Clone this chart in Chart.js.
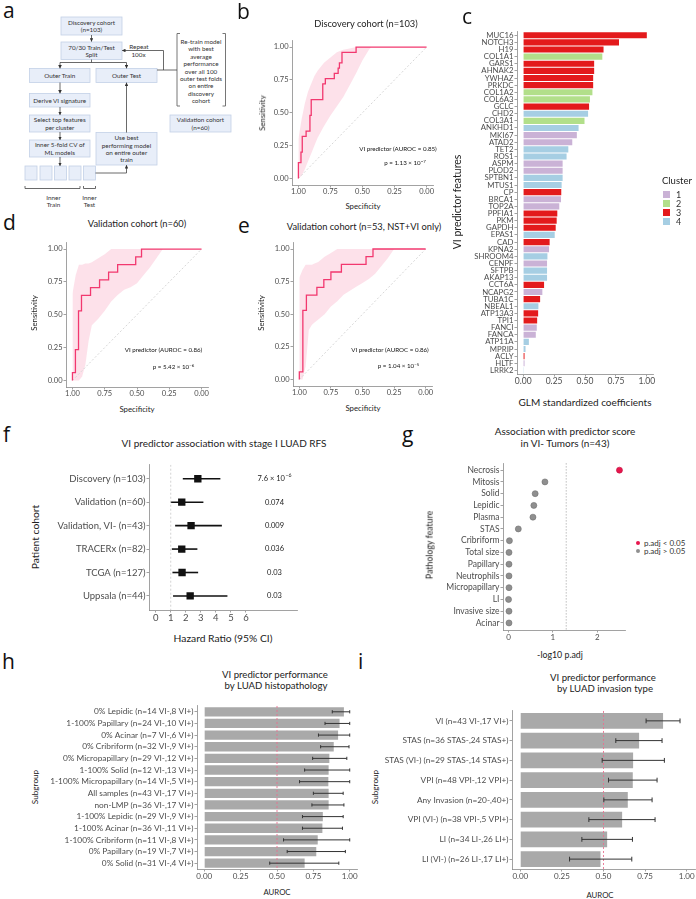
<!DOCTYPE html>
<html>
<head>
<meta charset="utf-8">
<script src="https://cdn.jsdelivr.net/npm/chart.js@4.4.1/dist/chart.umd.min.js"></script>
<style>
html, body { margin: 0; padding: 0; background: #fff; overflow: hidden; }
body { width: 696px; height: 899px; position: relative; font-family: Lato, sans-serif; color: #222; }
canvas { position: absolute; }
.t { position: absolute; white-space: nowrap; line-height: 1; }
.lt { position: absolute; font-family: "Open Sans", sans-serif; font-size: 21px; line-height: 1; color: #111; }
sup { font-size: 70%; vertical-align: 0.45em; line-height: 0; }
.sw { position: absolute; width: 7px; height: 7px; }
</style>
</head>
<body>
<svg id="flow" width="236" height="215" style="position:absolute;left:0;top:0"></svg>
<script>
// ---- ROC curves (specificity / sensitivity) ----
const rocB_spec = [1, 1, 0.98, 0.97, 0.94, 0.91, 0.9, 0.81, 0.79, 0.72, 0.69, 0.68, 0.66, 0.55, 0];
const rocB_sens = [0, 0.12, 0.2, 0.32, 0.36, 0.48, 0.6, 0.72, 0.76, 0.8, 0.84, 0.88, 0.96, 1, 1];
const bandB_spec = [1, 0.975, 0.95, 0.925, 0.9, 0.875, 0.85, 0.8, 0.75, 0.7, 0.65, 0.6, 0.55, 0.5, 0.45, 0.43];
const bandB_lo = [0, 0.02, 0.07, 0.13, 0.19, 0.25, 0.31, 0.4, 0.48, 0.55, 0.62, 0.71, 0.8, 0.9, 0.98, 1];
const bandB_hi = [0.3, 0.45, 0.57, 0.66, 0.72, 0.78, 0.82, 0.88, 0.92, 0.96, 0.98, 0.99, 1, 1, 1, 1];

const rocD_spec = [1, 1, 0.977, 0.953, 0.93, 0.86, 0.79, 0.72, 0.65, 0.51, 0.465, 0];
const rocD_sens = [0, 0.059, 0.235, 0.529, 0.647, 0.706, 0.765, 0.824, 0.882, 0.941, 1, 1];
const bandD_spec = [1, 0.975, 0.95, 0.925, 0.9, 0.875, 0.85, 0.8, 0.75, 0.7, 0.65, 0.6, 0.55, 0.5, 0.45, 0.4, 0.35, 0.3];
const bandD_lo = [0, 0, 0, 0.03, 0.12, 0.3, 0.42, 0.47, 0.53, 0.6, 0.65, 0.69, 0.71, 0.74, 0.8, 0.86, 0.93, 1];
const bandD_hi = [0.66, 0.8, 0.88, 0.88, 0.89, 0.89, 0.9, 0.93, 0.96, 1, 1, 1, 1, 1, 1, 1, 1, 1];

const rocE_spec = [1, 1, 0.972, 0.944, 0.861, 0.806, 0.75, 0.667, 0.472, 0.417, 0];
const rocE_sens = [0, 0.059, 0.529, 0.647, 0.706, 0.765, 0.824, 0.882, 0.941, 1, 1];
const bandE_spec = [1, 0.975, 0.95, 0.925, 0.9, 0.875, 0.85, 0.8, 0.75, 0.7, 0.65, 0.6, 0.55, 0.5, 0.45, 0.4, 0.35, 0.3, 0.25];
const bandE_lo = [0, 0, 0.1, 0.38, 0.42, 0.44, 0.46, 0.5, 0.56, 0.6, 0.65, 0.68, 0.71, 0.74, 0.77, 0.81, 0.87, 0.93, 1];
const bandE_hi = [0.78, 0.84, 0.88, 0.88, 0.88, 0.89, 0.9, 0.94, 0.97, 1, 1, 1, 1, 1, 1, 1, 1, 1, 1];

// ---- GLM coefficients ----
const genes = ['MUC16','NOTCH3','H19','COL1A1','GARS1','AHNAK2','YWHAZ','PRKDC','COL1A2','COL6A3',
  'GCLC','CHD2','COL3A1','ANKHD1','MKI67','ATAD2','TET2','ROS1','ASPM','PLOD2',
  'SPTBN1','MTUS1','CP','BRCA1','TOP2A','PPFIA1','PKM','GAPDH','EPAS1','CAD',
  'KPNA2','SHROOM4','CENPF','SFTPB','AKAP13','CCT6A','NCAPG2','TUBA1C','NBEAL1','ATP13A3',
  'TPI1','FANCI','FANCA','ATP11A','MPRIP','ACLY','HLTF','LRRK2'];
const coefs = [1.0, 0.775, 0.65, 0.64, 0.574, 0.574, 0.566, 0.566, 0.56, 0.54,
  0.533, 0.525, 0.496, 0.448, 0.434, 0.397, 0.365, 0.351, 0.319, 0.319,
  0.319, 0.311, 0.308, 0.306, 0.292, 0.276, 0.271, 0.263, 0.255, 0.214,
  0.209, 0.196, 0.193, 0.193, 0.193, 0.169, 0.155, 0.137, 0.123, 0.121,
  0.113, 0.11, 0.102, 0.046, 0.019, 0.011, 0.011, 0.005];
const clusters = [3,3,3,2,3,3,3,3,2,2, 3,4,2,4,1,1,4,4,1,1, 4,4,3,1,1,3,3,3,4,3, 1,4,1,4,4,3,1,3,4,3, 3,1,1,4,4,3,1,4];
const clusterNames = ['1', '2', '3', '4'];

// ---- forest plot ----
const cohorts = ['Discovery (n=103)', 'Validation (n=60)', 'Validation, VI- (n=43)', 'TRACERx (n=82)', 'TCGA (n=127)', 'Uppsala (n=44)'];
const hr = [2.8, 1.73, 2.35, 1.73, 1.75, 2.29];
const hrLo = [1.8, 1.0, 1.29, 1.07, 1.11, 1.15];
const hrHi = [4.3, 3.17, 4.4, 2.77, 2.82, 4.77];
const hrP = ['7.6 × 10^−6', '0.074', '0.009', '0.036', '0.03', '0.03'];
const hrTicks = [0, 1, 2, 3, 4, 5, 6];

// ---- pathology association ----
const features = ['Necrosis','Mitosis','Solid','Lepidic','Plasma','STAS','Cribriform','Total size','Papillary','Neutrophils','Micropapillary','LI','Invasive size','Acinar'];
const negLogP = [2.5, 0.82, 0.6, 0.57, 0.55, 0.22, 0.02, 0.01, 0.01, 0.01, 0.01, 0.0, 0.01, 0.01];

// ---- subgroup AUROC ----
const subgroupsH = ['0% Lepidic (n=14 VI-,8 VI+)', '1-100% Papillary (n=24 VI-,10 VI+)', '0% Acinar (n=7 VI-,6 VI+)',
  '0% Cribriform (n=32 VI-,9 VI+)', '0% Micropapillary (n=29 VI-,12 VI+)', '1-100% Solid (n=12 VI-,13 VI+)',
  '1-100% Micropapillary (n=14 VI-,5 VI+)', 'All samples (n=43 VI-,17 VI+)', 'non-LMP (n=36 VI-,17 VI+)',
  '1-100% Lepidic (n=29 VI-,9 VI+)', '1-100% Acinar (n=36 VI-,11 VI+)', '1-100% Cribriform (n=11 VI-,8 VI+)',
  '0% Papillary (n=19 VI-,7 VI+)', '0% Solid (n=31 VI-,4 VI+)'];
const aucH = [0.96, 0.93, 0.92, 0.89, 0.86, 0.855, 0.853, 0.855, 0.855, 0.815, 0.812, 0.78, 0.77, 0.69];
const aucH_lo = [0.88, 0.83, 0.785, 0.8, 0.745, 0.69, 0.655, 0.75, 0.74, 0.675, 0.675, 0.545, 0.57, 0.45];
const aucH_hi = [1, 1, 1, 0.995, 0.98, 1, 1, 0.955, 0.96, 0.955, 0.95, 1, 0.97, 0.925];

const subgroupsI = ['VI (n=43 VI-,17 VI+)', 'STAS (n=36 STAS-,24 STAS+)', 'STAS (VI-) (n=29 STAS-,14 STAS+)',
  'VPI (n=48 VPI-,12 VPI+)', 'Any Invasion (n=20-,40+)', 'VPI (VI-) (n=38 VPI-,5 VPI+)',
  'LI (n=34 LI-,26 LI+)', 'LI (VI-) (n=26 LI-,17 LI+)'];
const aucI = [0.858, 0.714, 0.678, 0.676, 0.646, 0.612, 0.522, 0.482];
const aucI_lo = [0.756, 0.574, 0.492, 0.53, 0.502, 0.412, 0.37, 0.296];
const aucI_hi = [0.96, 0.852, 0.866, 0.822, 0.792, 0.81, 0.674, 0.67];
const quarterTicks = [0, 0.25, 0.5, 0.75, 1];

// ---- styles ----
const AX = '#8a8a8a', TK = '#4d4d4d';
const PINK = '#f2386f', BAND = 'rgba(251, 196, 213, 0.5)';
const CL_COLORS = ['#CAB2D6', '#B2DF8A', '#E31A1C', '#A6CEE3'];
const SIG_RED = '#e8164d', NS_GREY = '#8f8f8f', BAR_GREY = '#a9a9a9';

Chart.defaults.font.family = 'Lato';
Chart.defaults.color = TK;
Chart.defaults.plugins.legend.display = false;
Chart.defaults.plugins.tooltip.enabled = false;

function mount(box, yW, xH, config) {
  const padT = 4, padR = 10;
  const cv = document.createElement('canvas');
  const w = box.r - box.l + yW + padR, h = box.b - box.t + padT + xH;
  cv.width = w; cv.height = h;
  cv.style.left = (box.l - yW) + 'px';
  cv.style.top = (box.t - padT) + 'px';
  cv.style.width = w + 'px';
  cv.style.height = h + 'px';
  document.body.appendChild(cv);
  config.options.responsive = false;
  config.options.animation = false;
  config.options.layout = { padding: { top: padT, right: padR, left: 0, bottom: 0 } };
  config.options.scales.x.afterFit = s => { s.height = xH; };
  config.options.scales.y.afterFit = s => { s.width = yW; };
  return new Chart(cv, config);
}

function scaleOpts(size, extra) {
  const o = {
    grid: { drawOnChartArea: false, drawTicks: true, tickLength: 2.5, color: AX, lineWidth: 0.8, offset: false },
    border: { display: true, color: AX, width: 0.8 },
    ticks: { color: TK, padding: 1, autoSkip: false, maxRotation: 0, font: { size: size } }
  };
  for (const k in extra) {
    if (k === 'ticks') Object.assign(o.ticks, extra.ticks);
    else o[k] = extra[k];
  }
  return o;
}

function fixedTicks(vals) {
  return s => { s.ticks = vals.map(v => ({ value: v })); };
}

function ciPlugin(lo, hi, rows, o) {
  const draw = chart => {
    const { ctx, scales: { x, y } } = chart;
    ctx.save();
    ctx.strokeStyle = o.color;
    ctx.lineWidth = o.width;
    lo.forEach((v, i) => {
      const py = y.getPixelForValue(rows[i]);
      const x0 = x.getPixelForValue(v), x1 = x.getPixelForValue(hi[i]);
      ctx.beginPath();
      ctx.moveTo(x0, py); ctx.lineTo(x1, py);
      if (o.cap) {
        ctx.moveTo(x0, py - o.cap); ctx.lineTo(x0, py + o.cap);
        ctx.moveTo(x1, py - o.cap); ctx.lineTo(x1, py + o.cap);
      }
      ctx.stroke();
    });
    ctx.restore();
  };
  return {
    id: 'ci',
    beforeDatasetsDraw(chart) { if (o.before) draw(chart); },
    afterDatasetsDraw(chart) { if (!o.before) draw(chart); }
  };
}

function refLine(v, color) {
  return {
    id: 'ref',
    afterDatasetsDraw(chart) {
      const { ctx, chartArea: a, scales: { x } } = chart;
      const px = x.getPixelForValue(v);
      ctx.save();
      ctx.strokeStyle = color; ctx.lineWidth = 0.9; ctx.setLineDash([2, 2]);
      ctx.beginPath(); ctx.moveTo(px, a.top); ctx.lineTo(px, a.bottom); ctx.stroke();
      ctx.restore();
    }
  };
}

// ---- ROC panels ----
function rocChart(box, cs, cn, bs, blo, bhi) {
  const pts = (xs, ys) => xs.map((s, i) => ({ x: s, y: ys[i] }));
  return mount(box, 30, 14, {
    type: 'line',
    data: { datasets: [
      { data: pts(bs, bhi), fill: '+1', backgroundColor: BAND, borderWidth: 0, pointRadius: 0, order: 3 },
      { data: pts(bs, blo), fill: false, borderWidth: 0, pointRadius: 0, order: 3 },
      { data: [{ x: 1, y: 0 }, { x: 0, y: 1 }], borderColor: '#d6d6d6', borderWidth: 1, borderDash: [2, 2], pointRadius: 0, fill: false, order: 2 },
      { data: pts(cs, cn), stepped: 'before', borderColor: PINK, borderWidth: 1.3, pointRadius: 0, fill: false, order: 1 }
    ] },
    options: { scales: {
      x: scaleOpts(7.5, { type: 'linear', reverse: true, min: -0.05, max: 1.05, afterBuildTicks: fixedTicks(quarterTicks), ticks: { padding: 0, callback: v => v.toFixed(2) } }),
      y: scaleOpts(7.5, { type: 'linear', min: -0.05, max: 1.05, afterBuildTicks: fixedTicks(quarterTicks), ticks: { callback: v => v.toFixed(2) } })
    } }
  });
}
rocChart({ l: 292, r: 433, t: 39, b: 185 }, rocB_spec, rocB_sens, bandB_spec, bandB_lo, bandB_hi);
rocChart({ l: 66, r: 208, t: 241, b: 387 }, rocD_spec, rocD_sens, bandD_spec, bandD_lo, bandD_hi);
rocChart({ l: 293, r: 432, t: 241, b: 386 }, rocE_spec, rocE_sens, bandE_spec, bandE_lo, bandE_hi);

// ---- panel c: coefficients ----
mount({ l: 517, r: 653, t: 30, b: 374 }, 60, 14, {
  type: 'bar',
  data: { labels: genes, datasets: [{
    data: coefs,
    backgroundColor: clusters.map(c => CL_COLORS[c - 1]),
    barPercentage: 0.86, categoryPercentage: 1
  }] },
  options: { indexAxis: 'y', scales: {
    x: scaleOpts(8.5, { type: 'linear', min: -0.05, max: 1.05, afterBuildTicks: fixedTicks(quarterTicks), ticks: { padding: 0, callback: v => v.toFixed(2) } }),
    y: scaleOpts(7.8, { ticks: { padding: 1 } })
  } }
});

// ---- panel f: forest ----
mount({ l: 149, r: 297, t: 462, b: 610 }, 104, 16, {
  type: 'line',
  data: { datasets: [
    { data: [{ x: 1, y: 0.4 }, { x: 1, y: 6.6 }], borderColor: '#c8c8c8', borderWidth: 0.8, borderDash: [2, 2], pointRadius: 0, order: 2 },
    { data: hr.map((v, i) => ({ x: v, y: i + 1 })), showLine: false, pointStyle: 'rect', pointRadius: 5.2,
      pointBackgroundColor: '#111', pointBorderWidth: 0, order: 1 }
  ] },
  options: { scales: {
    x: scaleOpts(9.5, { type: 'linear', min: -0.45, max: 9.4, afterBuildTicks: fixedTicks(hrTicks), ticks: { padding: 0 } }),
    y: scaleOpts(9.5, { type: 'linear', reverse: true, min: 0.4, max: 6.6, afterBuildTicks: fixedTicks(cohorts.map((_, i) => i + 1)), ticks: { callback: v => cohorts[v - 1] } })
  } },
  plugins: [
    ciPlugin(hrLo, hrHi, cohorts.map((_, i) => i + 1), { color: '#111', width: 1.6, before: true }),
    {
      id: 'pvals',
      afterDatasetsDraw(chart) {
        const { ctx, scales: { x, y } } = chart;
        ctx.save();
        ctx.fillStyle = '#222'; ctx.textBaseline = 'middle'; ctx.textAlign = 'left';
        hrP.forEach((p, i) => {
          const [base, exp] = p.split('^');
          ctx.font = '7.5px Lato';
          const wb = ctx.measureText(base).width;
          ctx.font = '5.2px Lato';
          const we = exp ? ctx.measureText(exp).width + 0.5 : 0;
          const px = x.getPixelForValue(7.9) - (wb + we) / 2, py = y.getPixelForValue(i + 1);
          ctx.font = '7.5px Lato';
          ctx.fillText(base, px, py);
          if (exp) { ctx.font = '5.2px Lato'; ctx.fillText(exp, px + wb + 0.5, py - 3); }
        });
        ctx.restore();
      }
    }
  ]
});

// ---- panel g: pathology ----
mount({ l: 503, r: 625, t: 461, b: 630 }, 80, 12, {
  type: 'line',
  data: { datasets: [
    { data: [{ x: 1.3, y: 0.4 }, { x: 1.3, y: 14.6 }], borderColor: '#bdbdbd', borderWidth: 1, borderDash: [1.5, 1.5], pointRadius: 0, order: 2 },
    { data: negLogP.map((v, i) => ({ x: v, y: i + 1 })), showLine: false, pointRadius: 3,
      pointBackgroundColor: negLogP.map(v => v > 1.3 ? SIG_RED : NS_GREY),
      pointBorderColor: negLogP.map(v => v > 1.3 ? '#c0103f' : '#6f6f6f'), pointBorderWidth: 0.6, order: 1 }
  ] },
  options: { scales: {
    x: scaleOpts(8, { type: 'linear', min: -0.125, max: 2.625, afterBuildTicks: fixedTicks([0, 1, 2]), ticks: { padding: 0 } }),
    y: scaleOpts(8.5, { type: 'linear', reverse: true, min: 0.4, max: 14.6, afterBuildTicks: fixedTicks(features.map((_, i) => i + 1)), ticks: { callback: v => features[v - 1] } })
  } }
});

// ---- panels h and i: subgroup AUROC ----
function aucChart(box, yW, labels, auc, lo, hi, cap) {
  return mount(box, yW, 12, {
    type: 'bar',
    data: { labels: labels, datasets: [{ data: auc, backgroundColor: BAR_GREY, barPercentage: 0.8, categoryPercentage: 1 }] },
    options: { indexAxis: 'y', scales: {
      x: scaleOpts(8, { type: 'linear', min: -0.05, max: 1.05, afterBuildTicks: fixedTicks(quarterTicks), ticks: { padding: 0, callback: v => v.toFixed(2) } }),
      y: scaleOpts(8.3, {})
    } },
    plugins: [refLine(0.5, '#e8708f'), ciPlugin(lo, hi, labels.map((_, i) => i), { color: '#333', width: 1, cap: cap })]
  });
}
aucChart({ l: 197, r: 357, t: 704, b: 869 }, 152, subgroupsH, aucH, aucH_lo, aucH_hi, 1.6);
aucChart({ l: 512, r: 695, t: 709, b: 869 }, 130, subgroupsI, aucI, aucI_lo, aucI_hi, 2.4);

// ---- text ----
function txt(x, y, html, size, opts = {}) {
  const d = document.createElement('div');
  d.className = 't';
  d.innerHTML = html;
  d.style.left = x + 'px';
  d.style.top = y + 'px';
  d.style.fontSize = size + 'px';
  let tr = opts.left ? 'translate(0,-50%)' : 'translate(-50%,-50%)';
  if (opts.rot) tr += ' rotate(-90deg)';
  d.style.transform = tr;
  if (opts.color) d.style.color = opts.color;
  document.body.appendChild(d);
}
function letter(x, y, s) {
  const d = document.createElement('div');
  d.className = 'lt';
  d.textContent = s;
  d.style.left = x + 'px'; d.style.top = y + 'px';
  document.body.appendChild(d);
}

letter(3, 0, 'a'); letter(237, 1, 'b'); letter(462, 6, 'c');
letter(3, 212, 'd'); letter(238, 215, 'e'); letter(3, 424, 'f');
letter(402, 424, 'g'); letter(2, 651, 'h'); letter(358, 651, 'i');

// titles
txt(366, 23.5, 'Discovery cohort (n=103)', 9.3);
txt(137, 223.5, 'Validation cohort (n=60)', 9.3);
txt(364, 227, 'Validation cohort (n=53, NST+VI only)', 9.3);
txt(224, 443, 'VI predictor association with stage I LUAD RFS', 10);
txt(565, 431, 'Association with predictor score', 10);
txt(565, 443, 'in VI- Tumors (n=43)', 10);
txt(275, 675, 'VI predictor performance', 9.6);
txt(276, 686, 'by LUAD histopathology', 9.6);
txt(603, 677.5, 'VI predictor performance', 9.6);
txt(605, 689, 'by LUAD invasion type', 9.6);

// axis titles
txt(363, 207, 'Specificity', 7.8); txt(263, 113, 'Sensitivity', 7.8, { rot: true });
txt(137, 410, 'Specificity', 7.8); txt(35, 313, 'Sensitivity', 7.8, { rot: true });
txt(363, 409, 'Specificity', 7.8); txt(262, 313, 'Sensitivity', 7.8, { rot: true });
txt(585, 402, 'GLM standardized coefficients', 10);
txt(457, 202, 'VI predictor features', 10.5, { rot: true });
txt(223, 638, 'Hazard Ratio (95% CI)', 10.3);
txt(35, 537, 'Patient cohort', 10.3, { rot: true });
txt(560, 655, '-log10 p.adj', 8.8);
txt(430, 545, 'Pathology feature', 8.8, { rot: true });
txt(277, 893, 'AUROC', 7.8); txt(35, 787, 'Subgroup', 8.2, { rot: true });
txt(600, 896, 'AUROC', 7.8); txt(375, 787, 'Subgroup', 8.2, { rot: true });

// ROC annotations
txt(398, 148.5, 'VI predictor (AUROC = 0.85)', 6.2, { color: '#111' });
txt(405, 163, 'p = 1.13 × 10<sup>−7</sup>', 6.2, { color: '#111' });
txt(163.5, 350, 'VI predictor (AUROC = 0.86)', 6.2, { color: '#111' });
txt(173.5, 366.5, 'p = 5.42 × 10<sup>−6</sup>', 6.2, { color: '#111' });
txt(390, 350, 'VI predictor (AUROC = 0.86)', 6.2, { color: '#111' });
txt(398.5, 366, 'p = 1.04 × 10<sup>−5</sup>', 6.2, { color: '#111' });

// cluster legend
txt(662, 181, 'Cluster', 9.5, { left: true });
clusterNames.forEach((n, i) => {
  const s = document.createElement('div');
  s.className = 'sw';
  s.style.left = '663px';
  s.style.top = (190.5 + i * 9) + 'px';
  s.style.background = CL_COLORS[i];
  document.body.appendChild(s);
  txt(676, 194 + i * 9, n, 9, { left: true, color: '#333' });
});

// significance legend
[[SIG_RED, 'p.adj &lt; 0.05'], [NS_GREY, 'p.adj &gt; 0.05']].forEach(([c, l], i) => {
  const s = document.createElement('div');
  s.style.cssText = 'position:absolute;width:4px;height:4px;border-radius:50%;left:636px;top:' + (540.5 + i * 8.5) + 'px;background:' + c;
  document.body.appendChild(s);
  txt(644, 542.5 + i * 8.5, l, 8, { left: true, color: '#333' });
});

// ---- panel a: workflow diagram ----
const flowBoxes = [
  [61, 17, 61, 18, ['Discovery cohort', '(n=103)']],
  [61, 42, 61, 17.5, ['70/30 Train/Test', 'Split']],
  [29.5, 68.5, 60.5, 14, ['Outer Train']],
  [96, 68.5, 61, 14, ['Outer Test']],
  [29.5, 93.5, 60.5, 13.5, ['Derive VI signature']],
  [29.5, 115, 60.5, 17, ['Select top features', 'per cluster']],
  [29.5, 140, 60.5, 17, ['Inner 5-fold CV of', 'ML models']],
  [96, 132.5, 61, 32.5, ['Use best', 'performing model', 'on entire outer', 'train']],
  [170, 115, 61, 17, ['Validation cohort', '(n=60)']],
  [25, 166, 12, 14, []], [40, 166, 12, 14, []], [54.5, 166, 12, 14, []], [69, 166, 12, 14, []], [83.5, 166, 12, 14, []]
];
let svg = '<defs><marker id="ar" viewBox="0 0 6 6" refX="5.5" refY="3" markerWidth="4.5" markerHeight="4.5" orient="auto">' +
  '<path d="M0,0 L6,3 L0,6 z" fill="#333"/></marker></defs>';
const tl = (x, y, s) => '<text x="' + x + '" y="' + y + '" text-anchor="middle" dominant-baseline="central">' + s + '</text>';
flowBoxes.forEach(([x, y, w, h, lines]) => {
  svg += '<rect x="' + x + '" y="' + y + '" width="' + w + '" height="' + h + '" fill="#e8eef9" stroke="#c3d0e6" stroke-width="0.8"/>';
  const y0 = y + h / 2 - (lines.length - 1) * 7.3 / 2;
  lines.forEach((s, i) => { svg += tl(x + w / 2, y0 + i * 7.3, s); });
});
const retrain = ['Re-train model', 'with best', 'average', 'performance', 'over all 100', 'outer test folds', 'on entire', 'discovery', 'cohort'];
retrain.forEach((s, i) => { svg += tl(201, 41.5 + i * 7.4, s); });
svg += '<path d="M180,33.5 L177,33.5 L177,106 L180,106 M222.5,33.5 L225.5,33.5 L225.5,106 L222.5,106" fill="none" stroke="#666" stroke-width="0.9"/>';
svg += tl(139, 46.7, 'Repeat') + tl(138.5, 54, '100x');
svg += tl(53.5, 197.5, 'Inner') + tl(53.5, 204.8, 'Train') + tl(89.5, 197.5, 'Inner') + tl(89.5, 204.8, 'Test');
const line = (d, arrow) => '<path d="' + d + '" fill="none" stroke="#444" stroke-width="0.8"' + (arrow ? ' marker-end="url(#ar)"' : '') + '/>';
svg += line('M25,186 L25,188.5 L80,188.5 L80,186') + line('M83.5,186 L83.5,188.5 L95.5,188.5 L95.5,186');
svg += line('M91.5,35 L91.5,41.5', true);
svg += line('M91.5,59.5 L91.5,62.5 M60,62.5 L126.5,62.5');
svg += line('M60,62.5 L60,68.3', true) + line('M126.5,62.5 L126.5,68.3', true);
svg += line('M60,82.5 L60,93.3', true) + line('M60,107 L60,114.8', true);
svg += line('M60,132 L60,139.8', true) + line('M60,157 L60,165.8', true);
svg += line('M95.5,173 L126.5,173 L126.5,165.2', true);
svg += line('M126.5,132.5 L126.5,82.7', true);
svg += line('M157,70 L177,70') + line('M163.5,70 L163.5,50.5 L122.2,50.5', true);
const flow = document.getElementById('flow');
flow.setAttribute('font-family', 'Lato');
flow.setAttribute('font-size', '6.3');
flow.setAttribute('fill', '#333');
flow.innerHTML = svg;
</script>
</body>
</html>
